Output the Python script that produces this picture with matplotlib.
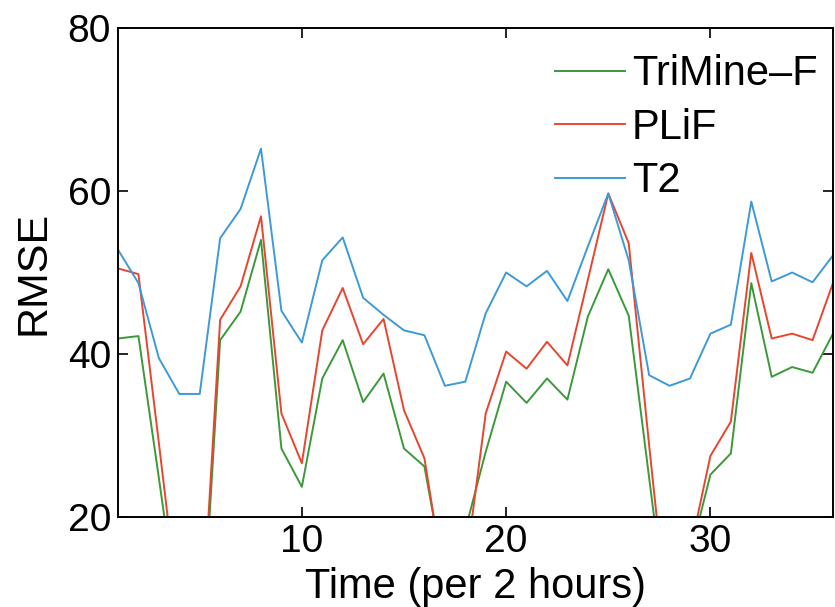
import matplotlib
matplotlib.use("Agg")
import matplotlib.pyplot as plt

# Time steps (per 2 hours)
time = list(range(1, 37))

trimine_f = [41.9, 42.2, 24.8, 7.0, 0.0, 41.7, 45.2, 54.0, 28.4, 23.7,
             37.0, 41.7, 34.1, 37.6, 28.4, 26.2, 12.4, 18.4, 28.0, 36.6,
             34.0, 37.0, 34.4, 44.6, 50.4, 44.7, 24.8, 5.0, 15.2, 25.2,
             27.8, 48.7, 37.2, 38.4, 37.7, 42.5]

plif = [50.5, 49.8, 29.1, 8.0, 2.0, 44.2, 48.3, 56.9, 32.7, 26.6,
        42.9, 48.1, 41.2, 44.3, 33.1, 27.2, 11.5, 13.5, 32.7, 40.3,
        38.2, 41.5, 38.6, 49.1, 59.7, 53.6, 28.8, 5.0, 15.8, 27.5,
        31.7, 52.4, 41.9, 42.5, 41.7, 48.7]

t2 = [52.8, 48.7, 39.5, 35.1, 35.1, 54.2, 57.8, 65.2, 45.3, 41.4,
      51.5, 54.3, 46.9, 44.8, 42.9, 42.3, 36.1, 36.6, 45.0, 50.0,
      48.3, 50.2, 46.5, 53.2, 59.7, 51.5, 37.4, 36.1, 37.0, 42.5,
      43.6, 58.7, 48.9, 50.0, 48.8, 52.1]

series_labels = ["TriMine\u2013F", "PLiF", "T2"]
series_colors = ["#3a9a3a", "#e8452f", "#3d9ad8"]

xticks = [10, 20, 30]
yticks = [20, 40, 60, 80]

plt.rcParams["font.family"] = ["Liberation Sans", "DejaVu Sans"]

fig = plt.figure(figsize=(8.35, 6.07), dpi=100)
ax = fig.add_axes([118 / 835, 90 / 607, 715 / 835, 489 / 607])

for values, label, color in zip([trimine_f, plif, t2], series_labels, series_colors):
    ax.plot(time, values, color=color, lw=1.4, label=label)

ax.set_xlim(1, 36)
ax.set_ylim(20, 80)
ax.set_xticks(xticks)
ax.set_yticks(yticks)

for spine in ax.spines.values():
    spine.set_linewidth(1.4)
    spine.set_color("black")

ax.tick_params(direction="in", length=7, width=1.2, top=True, right=True,
               labelsize=28, pad=5)

ax.set_xlabel("Time (per 2 hours)", fontsize=30, labelpad=5)
ax.set_ylabel("RMSE", fontsize=31, labelpad=10)

ax.legend(loc="upper right", frameon=False, fontsize=30,
          handlelength=1.7, handletextpad=0.15, labelspacing=0.32,
          borderaxespad=0.2, bbox_to_anchor=(1.013, 0.997))

fig.savefig("out.png", dpi=100)
